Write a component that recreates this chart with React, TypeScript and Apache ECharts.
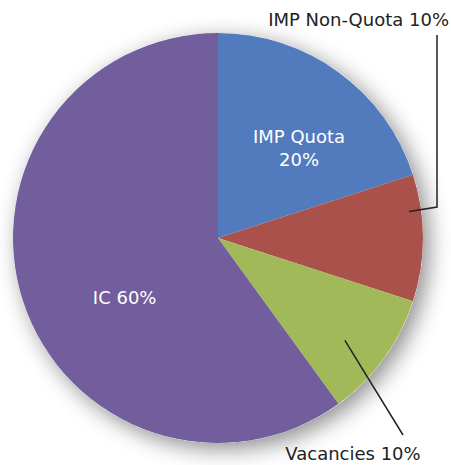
import React, { useEffect, useRef } from "react";
import * as echarts from "echarts";

const categories = ["IMP Quota", "IMP Non-Quota", "Vacancies", "IC"];
const values = [20, 10, 10, 60];
const colors = ["#527BBD", "#A9514A", "#A2B95A", "#725D9D"];

const CX = 218;
const CY = 238;
const R = 205;
const FONT = "'DejaVu Sans', 'Open Sans', sans-serif";
const FS = 18;

function polar(angleDeg: number, r: number): [number, number] {
  const a = (angleDeg * Math.PI) / 180;
  return [CX + r * Math.sin(a), CY - r * Math.cos(a)];
}

export default function App() {
  const ref = useRef<HTMLDivElement>(null);
  useEffect(() => {
    if (!ref.current) return;
    const chart = echarts.init(ref.current, undefined, { renderer: "svg" });
    const total = values.reduce((a, b) => a + b, 0);
    const starts: number[] = [];
    let acc = 0;
    values.forEach((v) => {
      starts.push((acc / total) * 360);
      acc += v;
    });
    const spans = values.map((v) => (v / total) * 360);

    const nqStart = polar(starts[1] + spans[1] * 0.28, 193);
    const vacStart = polar(starts[2] + spans[2] * 0.58, 163);

    const data = categories.map((name, i) => {
      const inside = i === 0 || i === 3;
      return {
        name,
        value: values[i],
        itemStyle: { color: colors[i] },
        label: inside
          ? {
              show: true,
              position: "inside",
              color: "#fff",
              fontSize: FS,
              fontWeight: "normal",
              fontFamily: FONT,
              lineHeight: 23,
              formatter: i === 0 ? "{b}\n{c}%" : "{b} {c}%",
            }
          : { show: false },
        labelLine: { show: false },
      };
    });

    chart.setOption({
      animation: false,
      series: [
        {
          type: "pie",
          silent: true,
          center: [CX, CY],
          radius: R,
          z: 1,
          label: { show: false },
          labelLine: { show: false },
          data: [
            {
              value: total,
              itemStyle: {
                color: "#fff",
                shadowBlur: 22,
                shadowColor: "rgba(0,0,0,0.45)",
                shadowOffsetX: 6,
                shadowOffsetY: 6,
              },
            },
          ],
        },
        {
          type: "pie",
          center: [CX, CY],
          radius: R,
          startAngle: 90,
          clockwise: true,
          z: 2,
          data,
          labelLayout: (p: any) => {
            if (p.dataIndex === 0) return { dx: 19, dy: -5 };
            if (p.dataIndex === 3) return { dx: 7, dy: 27 };
            return {};
          },
        },
      ],
      graphic: [
        {
          type: "polyline",
          z: 10,
          shape: { points: [nqStart, [437, 207], [437, 35]] },
          style: { stroke: "#222", lineWidth: 1.5, fill: "none" },
        },
        {
          type: "text",
          z: 10,
          x: 449,
          y: 19,
          style: {
            text: `${categories[1]} ${values[1]}%`,
            align: "right",
            verticalAlign: "middle",
            fill: "#222",
            fontSize: FS,
            fontWeight: "normal",
            fontFamily: FONT,
          },
        },
        {
          type: "line",
          z: 10,
          shape: { x1: vacStart[0], y1: vacStart[1], x2: 403, y2: 435 },
          style: { stroke: "#222", lineWidth: 1.5 },
        },
        {
          type: "text",
          z: 10,
          x: 353,
          y: 453,
          style: {
            text: `${categories[2]} ${values[2]}%`,
            align: "center",
            verticalAlign: "middle",
            fill: "#222",
            fontSize: FS,
            fontWeight: "normal",
            fontFamily: FONT,
          },
        },
      ],
    });
    return () => chart.dispose();
  }, []);
  return (
    <div
      ref={ref}
      style={{ position: "fixed", left: 0, top: 0, width: 451, height: 465, background: "#fff" }}
    />
  );
}
